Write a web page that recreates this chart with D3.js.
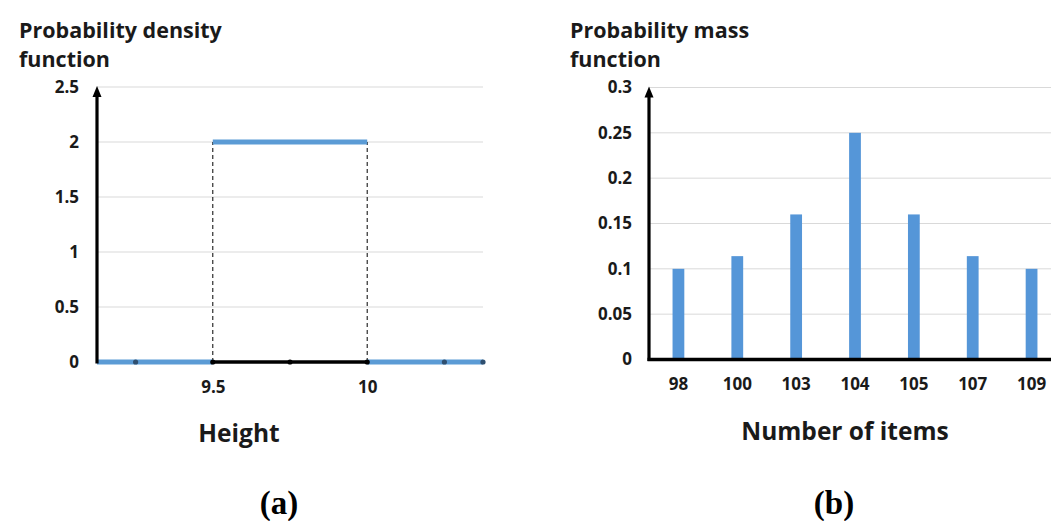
<!DOCTYPE html>
<html>
<head>
<meta charset="utf-8">
<script src="https://cdn.jsdelivr.net/npm/d3@7"></script>
<style>
  html, body { margin: 0; padding: 0; background: #fff; }
  svg { display: block; }
</style>
</head>
<body>
<svg id="chart" width="1051" height="521"></svg>
<script>
// ---------- data: (a) probability density function ----------
const pdfSegStart = [9.125, 9.5, 10];
const pdfSegEnd   = [9.5, 10, 10.375];
const pdfSegValue = [0, 2, 0];
const pdfDomainX  = [9.125, 10.375];
const pdfTicksX   = [9.5, 10];
const pdfTicksY   = [0, 0.5, 1, 1.5, 2, 2.5];
const pdfMarkers  = [9.25, 9.5, 9.75, 10, 10.25, 10.375];
const pdfSupport  = [9.5, 10];

// ---------- data: (b) probability mass function ----------
const pmfCategories = ["98", "100", "103", "104", "105", "107", "109"];
const pmfValues     = [0.1, 0.114, 0.16, 0.25, 0.16, 0.114, 0.1];
const pmfTicksY     = [0, 0.05, 0.1, 0.15, 0.2, 0.25, 0.3];

const svg = d3.select("#chart");
const FONT = "'Open Sans', 'Noto Sans', sans-serif";
const BLUE = "#5b9bd5";
const GRID = "#d9d9d9";
const TXT = "#1a1a1a";

function styleTicks(g, size) {
  g.select(".domain").remove();
  g.selectAll("text").attr("font-family", FONT).attr("font-weight", 700)
    .attr("font-size", size).attr("fill", TXT);
}

function yAxisArrow(xPos, yBottom, yTop) {
  svg.append("line")
    .attr("x1", xPos).attr("x2", xPos)
    .attr("y1", yBottom + 1.5).attr("y2", yTop + 6)
    .attr("stroke", "#000").attr("stroke-width", 3.2);
  svg.append("path")
    .attr("d", `M${xPos},${yTop - 1} L${xPos + 4.5},${yTop + 10} L${xPos - 4.5},${yTop + 10} Z`)
    .attr("fill", "#000");
}

// ================= (a) =================
{
  const x = d3.scaleLinear().domain(pdfDomainX).range([97, 483]);
  const y = d3.scaleLinear().domain([0, 2.5]).range([362, 87]);

  svg.append("g").selectAll("line").data(pdfTicksY.filter(d => d > 0)).join("line")
    .attr("x1", x(pdfDomainX[0])).attr("x2", x(pdfDomainX[1]))
    .attr("y1", d => y(d)).attr("y2", d => y(d))
    .attr("stroke", GRID).attr("stroke-width", 1);

  const ya = svg.append("g").attr("transform", `translate(${x(pdfDomainX[0])},0)`)
    .call(d3.axisLeft(y).tickValues(pdfTicksY).tickSize(0).tickPadding(18)
      .tickFormat(d => String(d)));
  styleTicks(ya, 17);

  const xa = svg.append("g").attr("transform", `translate(0,${y(0)})`)
    .call(d3.axisBottom(x).tickValues(pdfTicksX).tickSize(0).tickPadding(19)
      .tickFormat(d => String(d)));
  styleTicks(xa, 17);

  svg.append("g").selectAll("line").data(pdfSupport).join("line")
    .attr("x1", d => x(d)).attr("x2", d => x(d))
    .attr("y1", y(0)).attr("y2", y(2))
    .attr("stroke", "#000").attr("stroke-width", 1).attr("stroke-dasharray", "4,3");

  const segs = pdfSegStart.map((s, i) => ({ s, e: pdfSegEnd[i], v: pdfSegValue[i] }));
  svg.append("g").selectAll("line").data(segs).join("line")
    .attr("x1", d => x(d.s)).attr("x2", d => x(d.e))
    .attr("y1", d => y(d.v)).attr("y2", d => y(d.v))
    .attr("stroke", BLUE).attr("stroke-width", 5);

  svg.append("line")
    .attr("x1", x(pdfSupport[0])).attr("x2", x(pdfSupport[1]))
    .attr("y1", y(0)).attr("y2", y(0))
    .attr("stroke", "#000").attr("stroke-width", 3.5);

  svg.append("g").selectAll("circle").data(pdfMarkers).join("circle")
    .attr("cx", d => x(d)).attr("cy", y(0)).attr("r", 2.6)
    .attr("fill", d => (d >= pdfSupport[0] && d <= pdfSupport[1]) ? "#000" : "#2f4f6f");

  yAxisArrow(x(pdfDomainX[0]), y(0), y(2.5));

  const t = svg.append("text").attr("font-family", FONT).attr("font-weight", 700)
    .attr("font-size", 21.5).attr("fill", TXT);
  t.append("tspan").attr("x", 19).attr("y", 38).text("Probability density");
  t.append("tspan").attr("x", 19).attr("y", 67).text("function");

  svg.append("text").attr("x", 239).attr("y", 442).attr("text-anchor", "middle")
    .attr("font-family", FONT).attr("font-weight", 700).attr("font-size", 24.5)
    .attr("fill", TXT).text("Height");

  svg.append("text").attr("x", 279).attr("y", 514).attr("text-anchor", "middle")
    .attr("font-family", "'Liberation Serif', 'DejaVu Serif', serif").attr("font-weight", 700)
    .attr("font-size", 33).attr("fill", "#000").text("(a)");
}

// ================= (b) =================
{
  const x = d3.scaleBand().domain(pmfCategories).range([649, 1061])
    .paddingInner(0.8).paddingOuter(0.4);
  const y = d3.scaleLinear().domain([0, 0.3]).range([359.5, 87.5]);

  svg.append("g").selectAll("line").data(pmfTicksY.filter(d => d > 0)).join("line")
    .attr("x1", 649).attr("x2", 1061)
    .attr("y1", d => y(d)).attr("y2", d => y(d))
    .attr("stroke", GRID).attr("stroke-width", 1);

  const ya = svg.append("g").attr("transform", "translate(649,0)")
    .call(d3.axisLeft(y).tickValues(pmfTicksY).tickSize(0).tickPadding(17)
      .tickFormat(d => String(d)));
  styleTicks(ya, 17);

  const xa = svg.append("g").attr("transform", `translate(0,${y(0)})`)
    .call(d3.axisBottom(x).tickSize(0).tickPadding(18));
  styleTicks(xa, 17);

  svg.append("g").selectAll("rect").data(pmfCategories).join("rect")
    .attr("x", d => x(d)).attr("width", x.bandwidth())
    .attr("y", (d, i) => y(pmfValues[i]))
    .attr("height", (d, i) => y(0) - y(pmfValues[i]))
    .attr("fill", "#5596d8");

  svg.append("line").attr("x1", 649 - 1.5).attr("x2", 1061)
    .attr("y1", y(0)).attr("y2", y(0))
    .attr("stroke", "#000").attr("stroke-width", 3.5);

  yAxisArrow(649, y(0), y(0.3));

  const t = svg.append("text").attr("font-family", FONT).attr("font-weight", 700)
    .attr("font-size", 21.5).attr("fill", TXT);
  t.append("tspan").attr("x", 570).attr("y", 38).text("Probability mass");
  t.append("tspan").attr("x", 570).attr("y", 67).text("function");

  svg.append("text").attr("x", 845).attr("y", 440).attr("text-anchor", "middle")
    .attr("font-family", FONT).attr("font-weight", 700).attr("font-size", 24.5)
    .attr("fill", TXT).text("Number of items");

  svg.append("text").attr("x", 834).attr("y", 514).attr("text-anchor", "middle")
    .attr("font-family", "'Liberation Serif', 'DejaVu Serif', serif").attr("font-weight", 700)
    .attr("font-size", 33).attr("fill", "#000").text("(b)");
}
</script>
</body>
</html>
